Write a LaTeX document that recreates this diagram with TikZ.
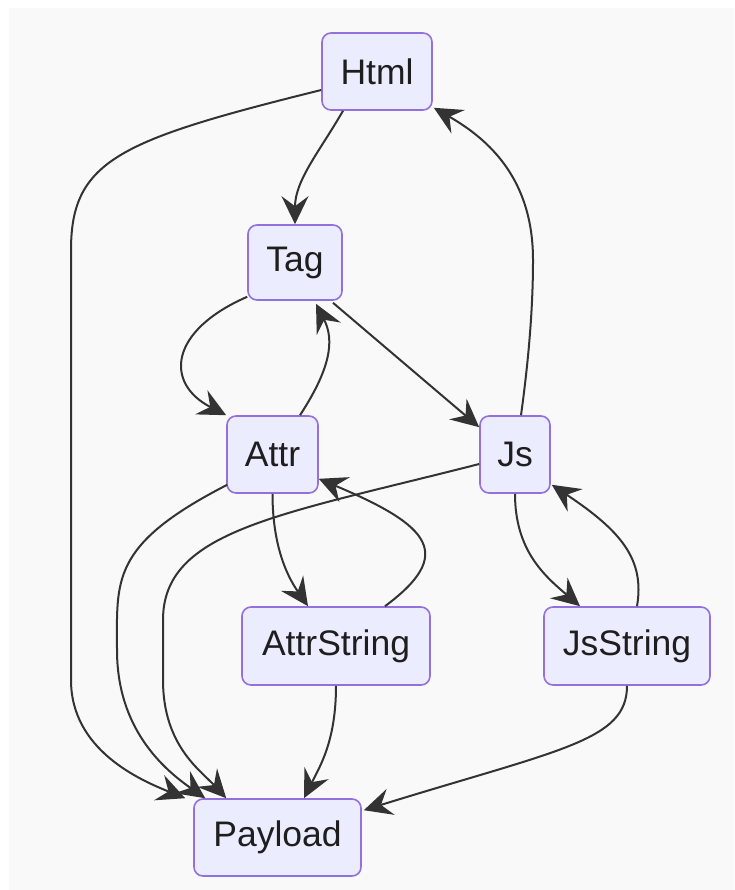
\documentclass[tikz,border=0pt]{standalone}
\usepackage{fontspec}
\setmainfont{Liberation Sans}
\usetikzlibrary{arrows.meta,calc}
\definecolor{nodefill}{HTML}{ECECFF}
\definecolor{nodeline}{HTML}{9370DB}
\definecolor{edgeline}{HTML}{333333}
\definecolor{canvas}{HTML}{F9F9F9}
\definecolor{labeltext}{HTML}{1E1E1E}
\tikzset{
  box/.style={draw=nodeline, fill=nodefill, line width=1.6pt, rounded corners=9pt,
    inner sep=0pt, text=labeltext, font=\fontsize{35.5}{40}\selectfont},
  link/.style={draw=edgeline, line width=2pt,
    -{Stealth[length=28pt,width=27pt,inset=10pt]}},
}
\begin{document}
\begin{tikzpicture}[x=1pt,y=-1pt]
\useasboundingbox (0,0) rectangle (734,890);
\fill[white] (0,0) rectangle (734,890);
\fill[canvas] (9,8) rectangle (734,890);

% nodes
\node[box, minimum width=110pt, minimum height=77pt] (html) at (377,71.5) {Html};
\node[box, minimum width=94pt, minimum height=75pt] (tag) at (295,262.5) {Tag};
\node[box, minimum width=91pt, minimum height=77pt] (attr) at (272.5,454.5) {Attr};
\node[box, minimum width=70pt, minimum height=77pt] (js) at (515,454.5) {Js};
\node[box, minimum width=188pt, minimum height=78pt] (attrstring) at (336,646) {AttrString};
\node[box, minimum width=166pt, minimum height=78pt] (jsstring) at (627,646) {JsString};
\node[box, minimum width=167pt, minimum height=77pt] (payload) at (277.5,837.5) {Payload};

% connectors
\draw[link] ($(html.south)+(-34,0)$) .. controls +(-23,40) and +(0,-44) .. (tag.north);
\draw[link] ($(html.west)+(0,18.5)$) .. controls (120,140) and (71,160) .. (71,250)
  -- (71,680) .. controls (71,750) and (140,780) .. ($(payload.north west)+(-8,0)$);
\draw[link] ($(attr.south west)+(1,-9)$) .. controls (110,545) and (117,580) .. (117,650)
  .. controls (117,730) and (165,770) .. ($(payload.north west)+(12,0)$);
\draw[link] ($(js.west)+(0,9.5)$) .. controls (280,515) and (163,530) .. (163,620)
  -- (163,680) .. controls (163,745) and (200,770) .. ($(payload.north west)+(33,0)$);
\draw[link] (attr.south) .. controls +(0,57) and +(-18,-26) .. ($(attrstring.north)+(-28,0)$);
\draw[link] ($(attrstring.north)+(49,0)$) .. controls +(70,-52) and +(112,47) .. ($(attr.south east)+(0,-15)$);
\draw[link] ($(tag.south west)+(0,-4)$) .. controls +(-78,34) and +(-62,-32) .. (attr.north west);
\draw[link] ($(attr.north)+(27.5,0)$) .. controls +(30,-46) and +(19,37) .. ($(tag.south)+(21,3)$);
\draw[link] ($(tag.south)+(38,2)$) -- ($(js.north west)+(0,12)$);
\draw[link] ($(js.north)+(6,0)$) .. controls (530,350) and (533,300) .. (533,260)
  .. controls (533,180) and (490,140) .. ($(html.south east)+(1,-3)$);
\draw[link] (js.south) .. controls +(0,57) and +(-35,-30) .. ($(jsstring.north)+(-47,0)$);
\draw[link] ($(jsstring.north)+(10,0)$) .. controls +(8,-47) and +(69,46) .. ($(js.south east)+(1,-9)$);
\draw[link] (attrstring.south) .. controls +(0,55) and +(16,-32) .. ($(payload.north)+(26.5,0)$);
\draw[link] (jsstring.south) .. controls +(0,55) and +(197,-61) .. ($(payload.north east)+(2,12)$);
\end{tikzpicture}
\end{document}
